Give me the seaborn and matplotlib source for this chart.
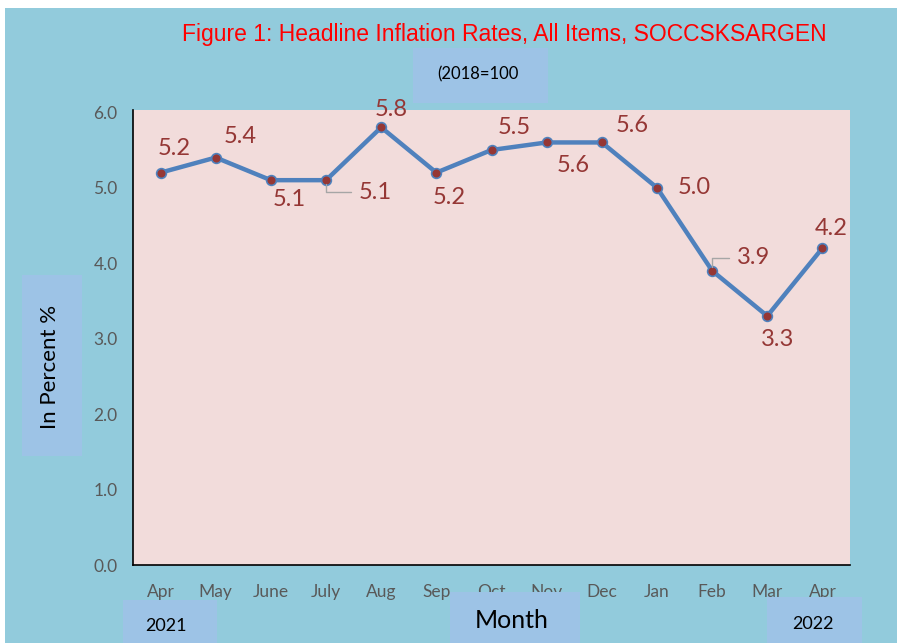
import matplotlib.pyplot as plt
import matplotlib.patches as mpatches
import pandas as pd
import seaborn as sns

# data
months = ['Apr', 'May', 'June', 'July', 'Aug', 'Sep', 'Oct', 'Nov', 'Dec', 'Jan', 'Feb', 'Mar', 'Apr']
rates = [5.2, 5.4, 5.1, 5.1, 5.8, 5.2, 5.5, 5.6, 5.6, 5.0, 3.9, 3.3, 4.2]
# label offsets in pixels (dx, dy) and whether a leader line is drawn
label_offsets = [(14, 24), (24, 21), (18, -19), (49, -12), (10, 18), (13, -25), (23, 22),
                 (27, -23), (30, 17), (37, 0), (41, 13), (10, -24), (9, 20)]
leaders = [False, False, False, True, False, False, False, False, False, False, True, False, False]

df = pd.DataFrame({'idx': range(len(months)), 'rate': rates})

sns.set_style('white')
plt.rcParams['font.family'] = ['Lato', 'DejaVu Sans']

bg = '#92CBDC'
box = '#9DC3E6'
fig = plt.figure(figsize=(8.97, 6.43), dpi=100, facecolor='white')
fig.patches.append(mpatches.Rectangle((5 / 897, 0), 1, 1 - 8 / 643, transform=fig.transFigure,
                                      facecolor=bg, edgecolor='none', zorder=-10))

ax = fig.add_axes([133 / 897, 1 - 565 / 643, 717 / 897, 455 / 643])
ax.set_facecolor('#F2DCDB')
sns.lineplot(data=df, x='idx', y='rate', ax=ax, color='#4F81BD', linewidth=3.2,
             marker='o', markersize=7, markerfacecolor='#953735', markeredgecolor='#4F81BD',
             markeredgewidth=1.2)

ax.set_xlim(-0.5, len(months) - 0.5)
ax.set_ylim(0, 6.03)
ax.set_yticks([0, 1, 2, 3, 4, 5, 6])
ax.set_yticklabels([f'{v:.1f}' for v in range(7)])
ax.set_xticks(range(len(months)))
ax.set_xticklabels(months)
ax.tick_params(axis='both', length=0, labelsize=12.5, labelcolor='#595959')
ax.tick_params(axis='x', pad=14)
ax.tick_params(axis='y', pad=11)
ax.set_xlabel('')
ax.set_ylabel('')
for s in ['top', 'right']:
    ax.spines[s].set_visible(False)
for s in ['left', 'bottom']:
    ax.spines[s].set_color('black')
    ax.spines[s].set_linewidth(1.2)

for i, (v, (dx, dy), ld) in enumerate(zip(rates, label_offsets, leaders)):
    ax.annotate(f'{v:.1f}', (i, v), xytext=(dx * 0.72, dy * 0.72), textcoords='offset points',
                ha='center', va='center', fontsize=17, color='#953735', clip_on=False)
    if ld:
        ax.annotate('', (i, v), xytext=((dx - 24) * 0.72, dy * 0.72), textcoords='offset points',
                    arrowprops=dict(arrowstyle='-', color='#A6A6A6', lw=1,
                                    connectionstyle='angle,angleA=0,angleB=90,rad=0',
                                    shrinkA=0, shrinkB=3))

# title and boxes
fig.text(504 / 897, 1 - 34 / 643, 'Figure 1: Headline Inflation Rates, All Items, SOCCSKSARGEN',
         ha='center', va='center', fontsize=16.5, color='#FF0000', family='Liberation Sans')


def boxed(x0, y0, x1, y1):
    fig.patches.append(mpatches.Rectangle((x0 / 897, 1 - y1 / 643), (x1 - x0) / 897, (y1 - y0) / 643,
                                          transform=fig.transFigure, facecolor=box, edgecolor='none'))


boxed(413, 48, 548, 103)
fig.text(478 / 897, 1 - 74 / 643, '(2018=100', ha='center', va='center', fontsize=12, color='black')
boxed(22, 275, 82, 456)
fig.text(50 / 897, 1 - 367 / 643, 'In Percent %', ha='center', va='center', fontsize=16,
         rotation=90, color='black')
boxed(123, 600, 217, 643)
fig.text(166 / 897, 1 - 626 / 643, '2021', ha='center', va='center', fontsize=13, color='black')
boxed(450, 592, 580, 643)
fig.text(512 / 897, 1 - 621 / 643, 'Month', ha='center', va='center', fontsize=18, color='black')
boxed(767, 597, 862, 643)
fig.text(813 / 897, 1 - 624 / 643, '2022', ha='center', va='center', fontsize=13, color='black')

fig.savefig('out.png', dpi=100, facecolor=fig.get_facecolor())
